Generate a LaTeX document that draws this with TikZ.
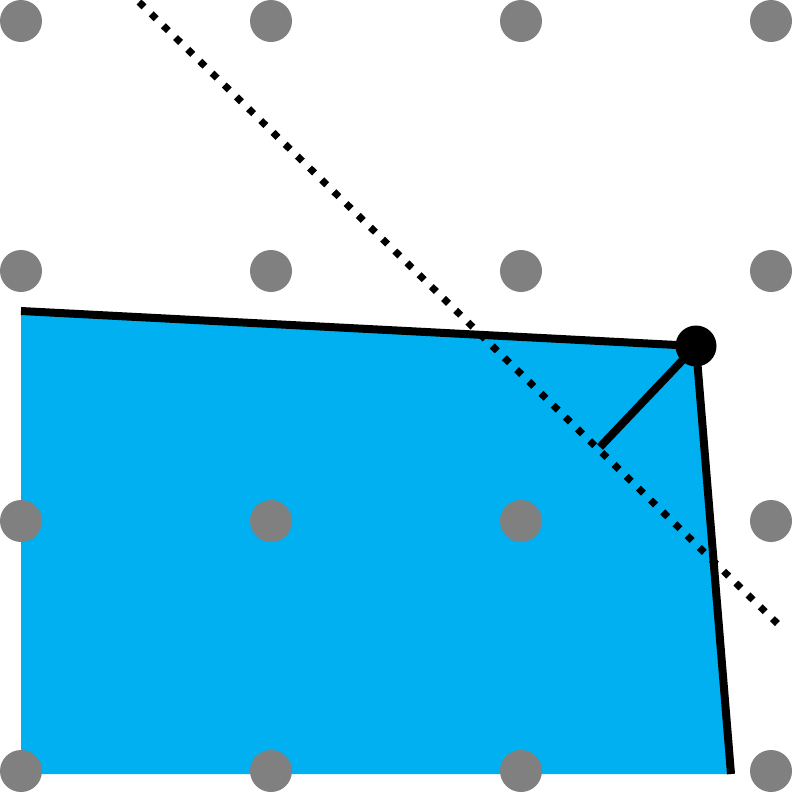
\documentclass[tikz,border=0pt]{standalone}
\begin{document}
\begin{tikzpicture}[x=1pt,y=-1pt,
  griddot/.style={fill=gridgray},
  edge/.style={line width=8pt,black},
  dotline/.style={line width=7pt,black,dash pattern=on 7pt off 10pt}]
\definecolor{gridgray}{HTML}{808080}
\definecolor{fillblue}{HTML}{00B0F0}
\useasboundingbox (0,0) rectangle (793,793);
\coordinate (A) at (21,311);
\coordinate (B) at (696,346);
\coordinate (C) at (731,774);
\coordinate (D) at (21,774);
\coordinate (E) at (600,447);
\coordinate (P) at (139,2);
\coordinate (Q) at (782,628);
\fill[fillblue] (A) -- (B) -- (C) -- (D) -- cycle;
\foreach \x in {21,271,521,771}
  \foreach \y in {21,271,521,771}
    \fill[griddot] (\x,\y) circle[radius=21];
\draw[dotline] (P) -- (Q);
\draw[edge] (A) -- (B) -- (C);
\draw[edge] (B) -- (E);
\fill (B) circle[radius=20.5];
\end{tikzpicture}
\end{document}
